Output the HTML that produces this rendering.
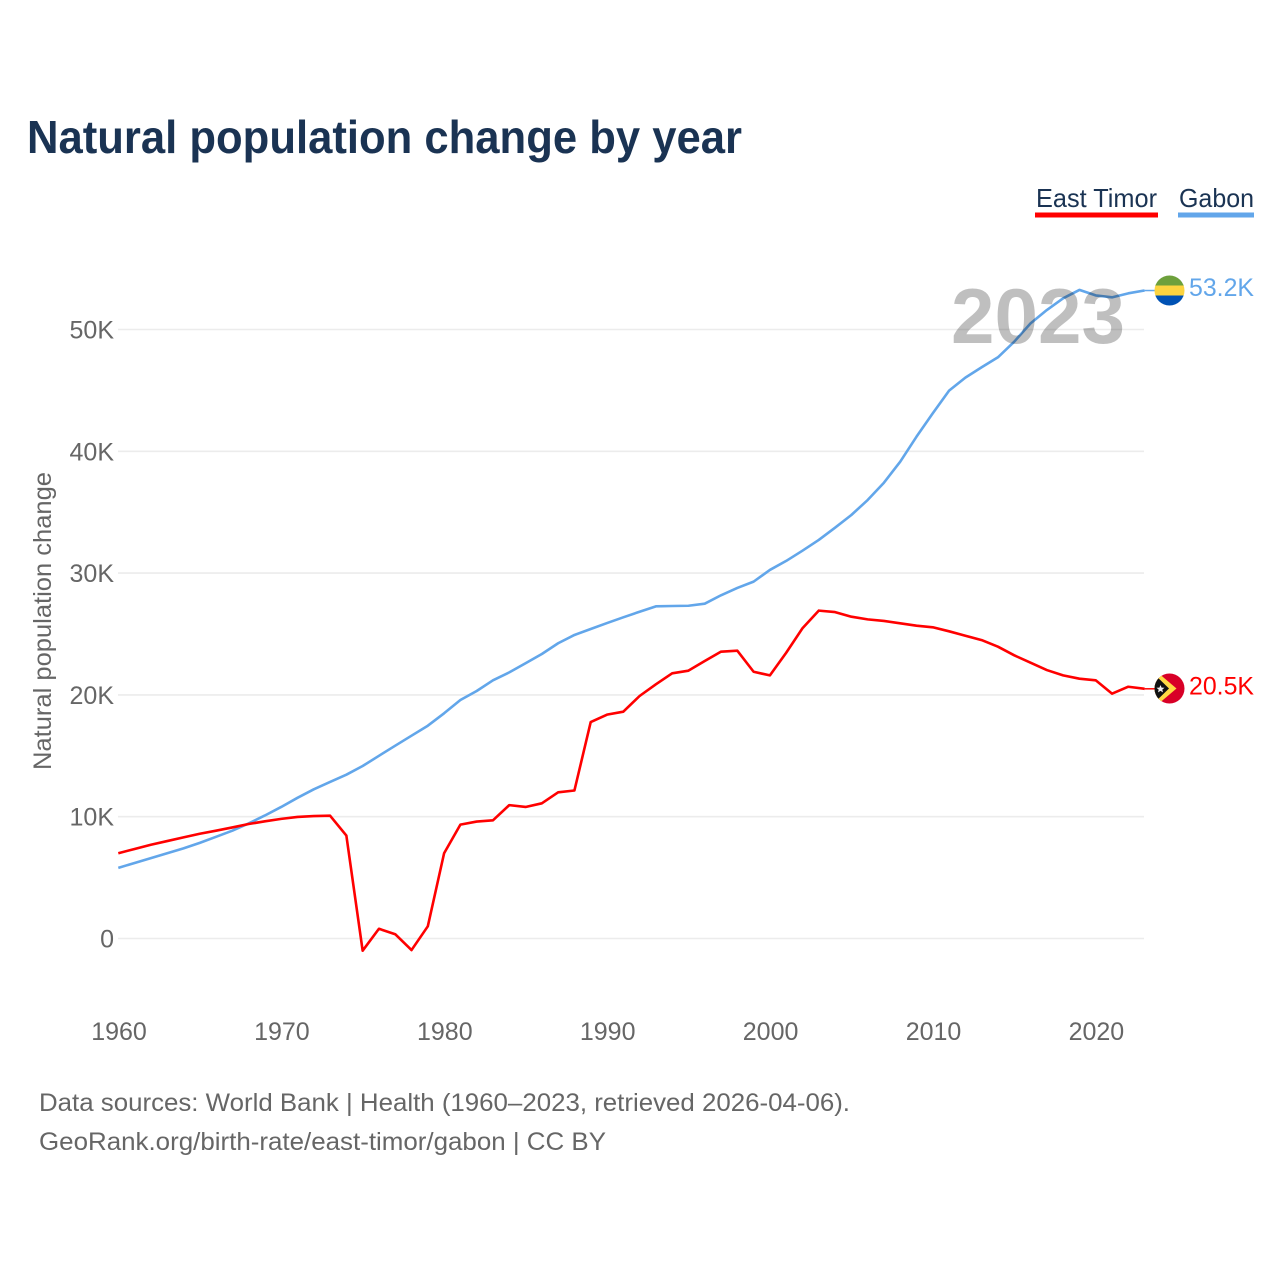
<!DOCTYPE html>
<html lang="en">
<head>
<meta charset="utf-8">
<title>Natural population change by year</title>
<style>
html,body{margin:0;padding:0;background:#fff;width:1280px;height:1280px;overflow:hidden}
svg{display:block}
text{font-family:"Liberation Sans",sans-serif}
</style>
</head>
<body>
<svg id="chart" xmlns="http://www.w3.org/2000/svg" width="1280" height="1280" viewBox="0 0 1280 1280">
  <defs>
    <clipPath id="clip-gabon"><circle cx="1169.5" cy="290.5" r="15"/></clipPath>
    <clipPath id="clip-timor"><circle cx="1169.5" cy="688.5" r="15"/></clipPath>
  </defs>
  <rect width="1280" height="1280" fill="#fff"/>
  <text x="27" y="153" font-size="46" font-weight="700" fill="#1a3353" textLength="715" lengthAdjust="spacingAndGlyphs">Natural population change by year</text>

  <g>
    <text x="1036" y="207" font-size="26" fill="#1a3353" textLength="121" lengthAdjust="spacingAndGlyphs">East Timor</text>
    <rect x="1035" y="212.5" width="123" height="5" fill="#ff0000"/>
  </g>
  <g>
    <text x="1179" y="207" font-size="26" fill="#1a3353" textLength="75" lengthAdjust="spacingAndGlyphs">Gabon</text>
    <rect x="1178" y="212.5" width="76" height="5" fill="#62a6ea"/>
  </g>

  <g id="grid"></g>
  <g id="yticks"></g>
  <g id="xticks"></g>
  <text transform="translate(51 770) rotate(-90)" font-size="25" fill="#666" textLength="298" lengthAdjust="spacingAndGlyphs">Natural population change</text>
  <g id="series"></g>

  <text x="951" y="343" font-size="78" font-weight="700" fill="#000" fill-opacity="0.25" textLength="174" lengthAdjust="spacingAndGlyphs">2023</text>

  <g clip-path="url(#clip-gabon)">
    <rect x="1154" y="275" width="31" height="11" fill="#6da03c"/>
    <rect x="1154" y="285.5" width="31" height="10" fill="#fcd440"/>
    <rect x="1154" y="295.5" width="31" height="11" fill="#0052b4"/>
  </g>
  <text x="1189" y="296" font-size="25" fill="#62a6ea" textLength="65" lengthAdjust="spacingAndGlyphs">53.2K</text>

  <g clip-path="url(#clip-timor)">
    <rect x="1154" y="673" width="31" height="31" fill="#d80027"/>
    <polygon points="1150,666 1176.5,688.5 1150,711" fill="#ffda44"/>
    <polygon points="1150,670 1169,688.5 1150,707" fill="#111"/>
    <polygon points="1160.5,685 1161.6,687.6 1164.5,687.8 1162.3,689.6 1163,692.4 1160.5,690.9 1158,692.4 1158.7,689.6 1156.5,687.8 1159.4,687.6" fill="#f0f0f0"/>
  </g>
  <text x="1189" y="694.5" font-size="25" fill="#ff0000" textLength="65" lengthAdjust="spacingAndGlyphs">20.5K</text>

  <text x="39" y="1111" font-size="25" fill="#666" textLength="811" lengthAdjust="spacingAndGlyphs">Data sources: World Bank | Health (1960–2023, retrieved 2026-04-06).</text>
  <a href="#" style="text-decoration:none"><text x="39" y="1150" font-size="25" fill="#666" textLength="567" lengthAdjust="spacingAndGlyphs">GeoRank.org/birth-rate/east-timor/gabon | CC BY</text></a>
</svg>
<script>
var startYear = 1960;
var xTickYears = [1960, 1970, 1980, 1990, 2000, 2010, 2020];
var yTickValues = [0, 10, 20, 30, 40, 50];
var yTickLabels = ["0", "10K", "20K", "30K", "40K", "50K"];
var eastTimor = [7.0,7.35,7.7,8.0,8.3,8.6,8.85,9.12,9.4,9.62,9.82,9.98,10.05,10.08,8.45,-1.0,0.8,0.35,-0.95,1.0,
  7.0,9.35,9.6,9.7,10.95,10.8,11.1,12.0,12.15,17.77,18.38,18.62,19.91,20.87,21.77,21.99,22.78,23.55,23.63,21.9,
  21.6,23.46,25.47,26.92,26.8,26.42,26.2,26.07,25.88,25.68,25.55,25.22,24.86,24.5,23.96,23.25,22.64,22.04,21.6,21.33,
  21.2,20.1,20.67,20.5];
var gabon = [5.8,6.2,6.6,7.0,7.4,7.85,8.35,8.85,9.45,10.1,10.8,11.55,12.25,12.85,13.45,14.16,15.0,15.83,16.65,17.47,
  18.49,19.58,20.32,21.2,21.85,22.6,23.36,24.24,24.92,25.41,25.9,26.37,26.83,27.27,27.3,27.32,27.49,28.18,28.78,29.3,
  30.26,31.0,31.84,32.72,33.73,34.77,36.0,37.42,39.15,41.2,43.12,44.98,46.05,46.9,47.72,49.0,50.5,51.6,52.56,53.25,
  52.8,52.64,52.97,53.2];

var NS = 'http://www.w3.org/2000/svg';
function xScale(year) { return 118.3 + (year - 1960) * 16.29; }
function yScale(value) { return 938.5 - value * 12.18; }
function make(tag, parent, attrs) {
  var el = document.createElementNS(NS, tag);
  for (var k in attrs) el.setAttribute(k, attrs[k]);
  document.getElementById(parent).appendChild(el);
  return el;
}

yTickValues.forEach(function (v, i) {
  var line = make('line', 'grid', {x1: 118, x2: 1144, y1: yScale(v), y2: yScale(v), stroke: '#ececec', 'stroke-width': 1.6});
  
  
  var t = make('text', 'yticks', {x: 114, y: yScale(v) + 9, 'font-size': 25, fill: '#666', 'text-anchor': 'end'});
  t.textContent = yTickLabels[i];
  
  
});

xTickYears.forEach(function (y) {
  var t = make('text', 'xticks', {x: xScale(y) + 0.7, y: 1040, 'font-size': 25, fill: '#666', 'text-anchor': 'middle'});
  t.textContent = String(y);
  
  
});

function pathFor(values) {
  return values.map(function (v, i) {
    return (i ? 'L' : 'M') + xScale(startYear + i).toFixed(2) + ' ' + yScale(v).toFixed(2);
  }).join(' ');
}
function endConnector(values, color) {
  var last = values[values.length - 1];
  return make('line', 'series', {x1: xScale(startYear + values.length - 1), x2: 1155, y1: yScale(last), y2: yScale(last), stroke: color, 'stroke-width': 1.5});
}

var gabonLine = make('path', 'series', {d: pathFor(gabon), fill: 'none', stroke: '#62a6ea', 'stroke-width': 2.6, 'stroke-linejoin': 'round'});


var gabonConnector = endConnector(gabon, '#62a6ea');



var timorLine = make('path', 'series', {d: pathFor(eastTimor), fill: 'none', stroke: '#ff0000', 'stroke-width': 2.6, 'stroke-linejoin': 'round'});


var timorConnector = endConnector(eastTimor, '#ff0000');


</script>
</body>
</html>
